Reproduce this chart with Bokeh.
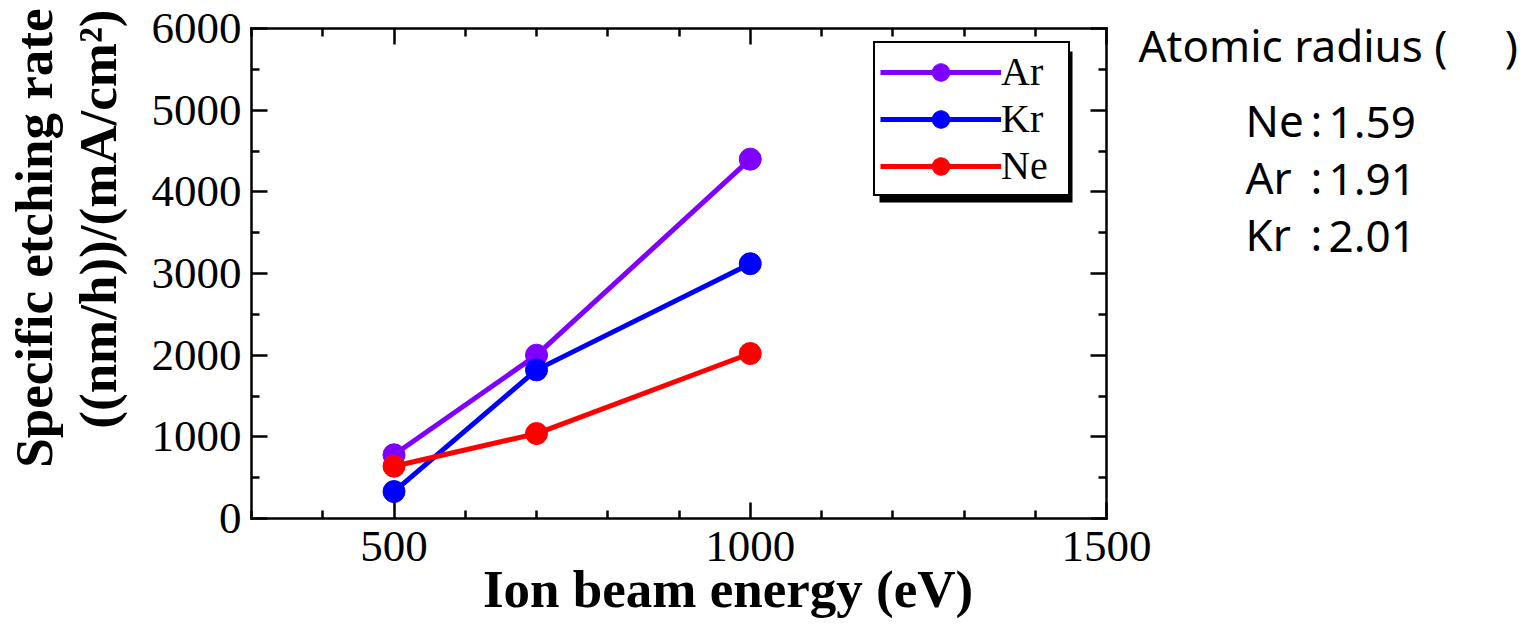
from math import pi
from bokeh.plotting import figure
from bokeh.models import (Range1d, LinearAxis, FixedTicker, Legend, LegendItem,
                          Label, BoxAnnotation, ColumnDataSource, CustomJSTickFormatter)
from bokeh.embed import file_html
from bokeh.resources import INLINE

# ---------------- data ----------------
energy = [500, 700, 1000]
ar_rate = [780, 2000, 4400]
kr_rate = [330, 1820, 3120]
ne_rate = [640, 1040, 2020]
series_names = ["Ar", "Kr", "Ne"]
series_colors = ["#8000ff", "#0000ff", "#ff0000"]

x_major = [500, 1000, 1500]
x_minor = [300, 400, 600, 700, 800, 900, 1100, 1200, 1300, 1400]
y_major = [0, 1000, 2000, 3000, 4000, 5000, 6000]
y_minor = [500, 1500, 2500, 3500, 4500, 5500]

NB = "\u00a0"
radius_title = "Atomic radius (" + NB * 5 + ")"
radius_gases = ["Ne", "Ar", "Kr"]
radius_values = ["1.59", "1.91", "2.01"]

x_title = "Ion beam energy (eV)"
y_title_1 = "Specific etching rate"
y_title_2 = "((nm/h))/(mA/cm\u00b2)"

# ---------------- layout (canvas pixels) ----------------
CW, CH = 1519, 618
FL, FT, FR, FB = 251, 28, 1106, 518      # box of the plot area
X0, X1, Y0, Y1 = 300, 1500, 0, 6000
KX = (X1 - X0) / (FR - FL)
KY = (Y1 - Y0) / (FB - FT)


def dx(px):
    return X0 + (px - FL) * KX


def dy(py):
    return Y0 + (FB - py) * KY


SERIF = "Liberation Serif"
SANS = "Noto Sans"
DESC_SERIF = 0.216
DESC_SANS = 0.293

p = figure(width=CW, height=CH, x_range=Range1d(dx(0), dx(CW)),
           y_range=Range1d(dy(CH), dy(0)), output_backend="svg",
           toolbar_location=None, min_border=0,
           x_axis_location=None, y_axis_location=None)
p.title.visible = False
p.xgrid.visible = False
p.ygrid.visible = False
p.outline_line_color = None
p.background_fill_color = "white"
p.border_fill_color = "white"


def make_axis(fixed, bounds, major, minor, show_labels, standoff):
    ax = LinearAxis(fixed_location=fixed, bounds=bounds)
    ax.ticker = FixedTicker(ticks=major, minor_ticks=minor)
    ax.axis_line_color = "black"
    ax.axis_line_width = 2.5
    ax.axis_line_cap = "square"
    ax.major_tick_in = 16
    ax.major_tick_out = 0
    ax.minor_tick_in = 8
    ax.minor_tick_out = 0
    ax.major_tick_line_width = 2.5
    ax.minor_tick_line_width = 2.5
    ax.major_tick_line_color = "black"
    ax.minor_tick_line_color = "black"
    ax.major_label_text_font = SERIF
    ax.major_label_text_color = "black"
    ax.major_label_standoff = standoff
    if show_labels:
        ax.major_label_text_font_size = "45px"
    else:
        ax.formatter = CustomJSTickFormatter(code="return ''")
        ax.major_label_text_font_size = "1px"
    return ax


p.add_layout(make_axis(Y0, (X0, X1), x_major, x_minor, True, 13), "below")
p.add_layout(make_axis(X0, (Y0, Y1), y_major, y_minor, True, 10), "left")
p.add_layout(make_axis(Y1, (X0, X1), x_major, x_minor, False, 0), "above")
p.add_layout(make_axis(X1, (Y0, Y1), y_major, y_minor, False, 0), "right")

# ---------------- series ----------------
items = []
for name, vals, color in zip(series_names, [ar_rate, kr_rate, ne_rate], series_colors):
    src = ColumnDataSource(dict(x=energy, y=vals))
    ln = p.line("x", "y", source=src, line_color=color, line_width=5)
    sc = p.scatter("x", "y", source=src, size=22, marker="circle",
                   fill_color=color, line_color=color)
    items.append(LegendItem(label=name, renderers=[ln, sc]))

# ---------------- legend with a drop shadow ----------------
LG_X, LG_Y, LG_W, LG_H, SH = 873, 45, 193, 151, 6
p.add_layout(BoxAnnotation(left=dx(LG_X + SH), right=dx(LG_X + LG_W + SH),
                           top=dy(LG_Y + SH), bottom=dy(LG_Y + LG_H + SH),
                           fill_color="black", fill_alpha=1.0, line_color=None))

legend = Legend(items=items, location=(LG_X, CH - (LG_Y + LG_H)))
legend.label_text_font = SERIF
legend.label_text_font_size = "40px"
legend.label_text_color = "black"
legend.glyph_width = 121
legend.glyph_height = 44
legend.label_height = 44
legend.label_width = 62
legend.label_standoff = 0
legend.padding = 5
legend.spacing = 0
legend.margin = 0
legend.border_line_color = "black"
legend.border_line_alpha = 1.0
legend.border_line_width = 2.5
legend.background_fill_color = "white"
legend.background_fill_alpha = 1.0
p.add_layout(legend)


def add_text(text, px, py_baseline, size, font, desc, align="left", bold=False, angle=0.0):
    """py_baseline is the baseline position; for rotated text px is the baseline."""
    if angle == 0.0:
        x, y = dx(px), dy(py_baseline + desc * size)
    else:
        x, y = dx(px + desc * size), dy(py_baseline)
    p.add_layout(Label(x=x, y=y, text=text, angle=angle, text_align=align,
                       text_baseline="bottom", text_font=font,
                       text_font_style="bold" if bold else "normal",
                       text_font_size=f"{size}px", text_color="black"))


# ---------------- axis titles ----------------
add_text(x_title, 727.5, 606, 53, SERIF, DESC_SERIF, align="center", bold=True)
add_text(y_title_1, 51, 8, 53, SERIF, DESC_SERIF, align="right", bold=True, angle=pi / 2)
add_text(y_title_2, 115, 9, 53, SERIF, DESC_SERIF, align="right", bold=True, angle=pi / 2)

# ---------------- atomic radius note ----------------
add_text(radius_title, 1138, 62, 44, SANS, DESC_SANS)
for i, (g, v) in enumerate(zip(radius_gases, radius_values)):
    base = 137 + 57 * i
    add_text(g, 1245, base, 44, SANS, DESC_SANS)
    add_text(":", 1316, base, 44, SANS, DESC_SANS, align="center")
    # purely numeric strings are laid out without a descent allowance
    add_text(v, 1328, base, 44, SANS, 0.0)

open("out.html", "w").write(file_html(p, INLINE))
